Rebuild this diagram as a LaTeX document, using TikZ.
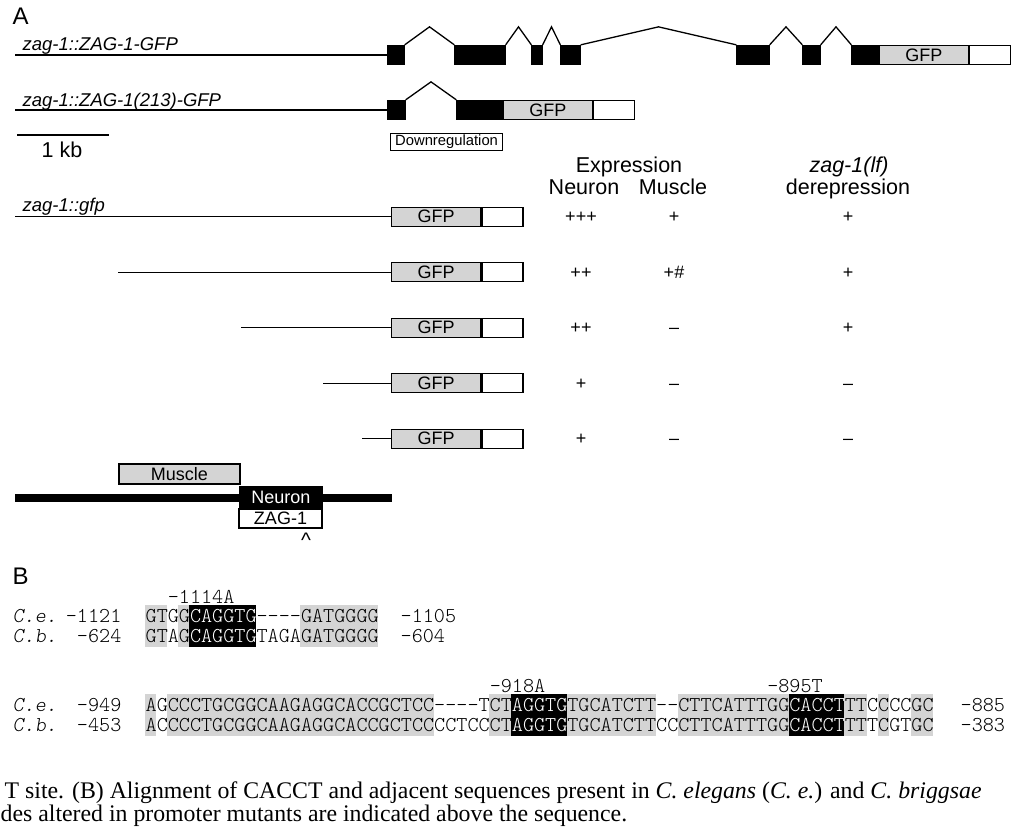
\documentclass[tikz,border=0pt]{standalone}
\usepackage{fontspec}
\setmainfont{Liberation Serif}
\setsansfont{Liberation Sans}
\setmonofont{lmmonolt10-regular.otf}[ItalicFont=lmmonolt10-oblique.otf]
\usetikzlibrary{positioning,calc}
\definecolor{boxgray}{gray}{0.83}
\newcommand\fsz[1]{\fontsize{#1}{#1}\selectfont}
\newcommand\wt[1]{\textcolor{white}{#1}}
\begin{document}
\begin{tikzpicture}[x=1pt,y=-1pt,line width=1.3pt,
	exon/.style={draw,fill=black,inner sep=0,minimum height=19},
	gfpbox/.style={draw,fill=boxgray,inner sep=0,minimum width=89,minimum height=19,font=\sffamily\fsz{18}},
	tailbox/.style={draw,fill=white,inner sep=0,minimum width=41,minimum height=19},
	construct/.style={anchor=base west,inner sep=0,font=\sffamily\itshape\fsz{18.5}},
	head/.style={anchor=base,inner sep=0,font=\sffamily\fsz{21.5}},
	score/.style={anchor=base,inner sep=0,font=\sffamily\fsz{18}},
	site/.style={draw,inner sep=0,minimum height=20,font=\sffamily\fsz{18}},
	seq/.style={anchor=base west,inner sep=0,font=\ttfamily\fsz{21.14}},
	panel/.style={anchor=base west,inner sep=0,font=\sffamily\fsz{24}},
	caption/.style={anchor=base west,inner sep=0,font=\rmfamily\fsz{23.8}}]
	\useasboundingbox (0,0) rectangle (1020,828);
	\node[panel] (pa) at (12,24) {A};
	\node[construct] (c1) at (22,50) {zag-1::ZAG-1-GFP};
	\foreach \a/\b [count=\i] in {388/404,455/505,532/542,561/580,737/769,803/820,852/878}
		\node[exon,minimum width=\b-\a] (ex\i) at ({(\a+\b)/2},55) {};
	\foreach \i [count=\j from 2] in {1,...,6}
		\draw (ex\i.north east) -- ($(ex\i.north east)!.5!(ex\j.north west)+(0,-18)$) -- (ex\j.north west);
	\coordinate (pa1) at (15,55);
	\draw (pa1) -- (ex1);
	\node[gfpbox,right=0pt of ex7] (gfpa) {GFP};
	\node[tailbox,right=0pt of gfpa] (taila) {};
	\node[construct] (c2) at (22,106) {zag-1::ZAG-1(213)-GFP};
	\foreach \a/\b [count=\i] in {388/405,457/502}
		\node[exon,minimum width=\b-\a] (ey\i) at ({(\a+\b)/2},110) {};
	\draw (ey1.north east) -- ($(ey1.north east)!.5!(ey2.north west)+(0,-18)$) -- (ey2.north west);
	\coordinate (pb1) at (15,110);
	\draw (pb1) -- (ey1);
	\node[gfpbox,right=0pt of ey2] (gfpb) {GFP};
	\node[tailbox,right=0pt of gfpb] (tailb) {};
	\node[draw,anchor=north west,inner xsep=4.5pt,inner ysep=1.5pt,font=\sffamily\fsz{14.8}] (down) at (390,133) {Downregulation};
	\coordinate (kb1) at (17,135);
	\coordinate (kb2) at (109,135);
	\draw (kb1) -- (kb2);
	\node[head] (kb) at (62,157) {1 kb};
	\node[head] (expr) at (629,172) {Expression};
	\node[head] (neuron) at (584,194) {Neuron};
	\node[head] (muscle) at (673,194) {Muscle};
	\node[head] (lf) at (849,172) {\itshape zag-1(lf)};
	\node[head] (derep) at (848,194) {derepression};
	\node[construct] (c3) at (22,211) {zag-1::gfp};
	\foreach \st/\vn/\vm/\vd [count=\i] in {15/+++/+/+,118/++/+\#/+,241/++/--/+,323/+/--/--,362/+/--/--}{
		\pgfmathsetmacro\yy{161.2+55.5*\i}
		\node[gfpbox,anchor=west] (gfp\i) at (391,\yy) {GFP};
		\node[tailbox,right=0pt of gfp\i] (tail\i) {};
		\coordinate (pr\i) at (\st,\yy);
		\draw (pr\i) -- (gfp\i);
		\node[score] (ne\i) at (581,\yy+6) {\vn};
		\node[score] (mu\i) at (674,\yy+6) {\vm};
		\node[score] (de\i) at (848,\yy+6) {\vd};
	}
	\coordinate (cr1) at (15,497.5);
	\coordinate (cr2) at (392,497.5);
	\draw[line width=8pt] (cr1) -- (cr2);
	\node[site,fill=boxgray,minimum width=121] (mus) at (179.5,474) {Muscle};
	\node[site,fill=black,text=white,minimum width=82,minimum height=21] (neu) at (281,497.5) {Neuron};
	\node[site,fill=white,minimum width=83,minimum height=19] (zag) at (280.5,518.5) {ZAG-1};
	\node[anchor=base,inner sep=0,font=\sffamily\fsz{21}] (hat) at (306,547) {\textasciicircum};
	\node[panel] (pb) at (12,584) {B};
	\foreach \a/\b in {0/2,3/4,14/21}
		\fill[boxgray] ({145+11.1*\a},605) rectangle ({145+11.1*\b},647);
	\fill ({145+11.1*4},605) rectangle ({145+11.1*10},647);
	\node[seq] (mt1) at ({145+11.1*2},603) {-1114A};
	\node[seq,font=\ttfamily\itshape\fsz{21.14}] (sp1) at (12,622) {C.e.};
	\node[seq,anchor=base east] (st1) at (122,622) {-1121};
	\node[seq] (ce1) at (145,622) {GTGG\wt{CAGGTG}----GATGGGG};
	\node[seq] (en1) at (400,622) {-1105};
	\node[seq,font=\ttfamily\itshape\fsz{21.14}] (sp2) at (12,642) {C.b.};
	\node[seq,anchor=base east] (st2) at (122,642) {-624};
	\node[seq] (cb1) at (145,642) {GTAG\wt{CAGGTG}TAGAGATGGGG};
	\node[seq] (en2) at (400,642) {-604};
	\foreach \a/\b in {0/1,2/26,31/33,38/46,48/58,63/65,66/67,69/71}
		\fill[boxgray] ({145+11.1*\a},694) rectangle ({145+11.1*\b},736);
	\foreach \a/\b in {33/38,58/63}
		\fill ({145+11.1*\a},694) rectangle ({145+11.1*\b},736);
	\node[seq] (mt2) at ({145+11.1*31},692) {-918A};
	\node[seq] (mt3) at ({145+11.1*56},692) {-895T};
	\node[seq,font=\ttfamily\itshape\fsz{21.14}] (sp3) at (12,711) {C.e.};
	\node[seq,anchor=base east] (st3) at (122,711) {-949};
	\node[seq] (ce2) at (145,711) {AGCCCTGCGGCAAGAGGCACCGCTCC----TCT\wt{AGGTG}TGCATCTT--CTTCATTTGG\wt{CACCT}TTCCCCGC};
	\node[seq] (en3) at (960,711) {-885};
	\node[seq,font=\ttfamily\itshape\fsz{21.14}] (sp4) at (12,731) {C.b.};
	\node[seq,anchor=base east] (st4) at (122,731) {-453};
	\node[seq] (cb2) at (145,731) {ACCCCTGCGGCAAGAGGCACCGCTCCCCTCCCT\wt{AGGTG}TGCATCTTCCCTTCATTTGG\wt{CACCT}TTTCGTGC};
	\node[seq] (en4) at (960,731) {-383};
	\node[caption] (cap1) at (4,798) {T site. (B) Alignment of CACCT and adjacent sequences present in \textit{C. elegans} (\textit{C. e.}) and \textit{C. briggsae}};
	\node[caption] (cap2) at (0,821) {des altered in promoter mutants are indicated above the sequence.};
\end{tikzpicture}
\end{document}
